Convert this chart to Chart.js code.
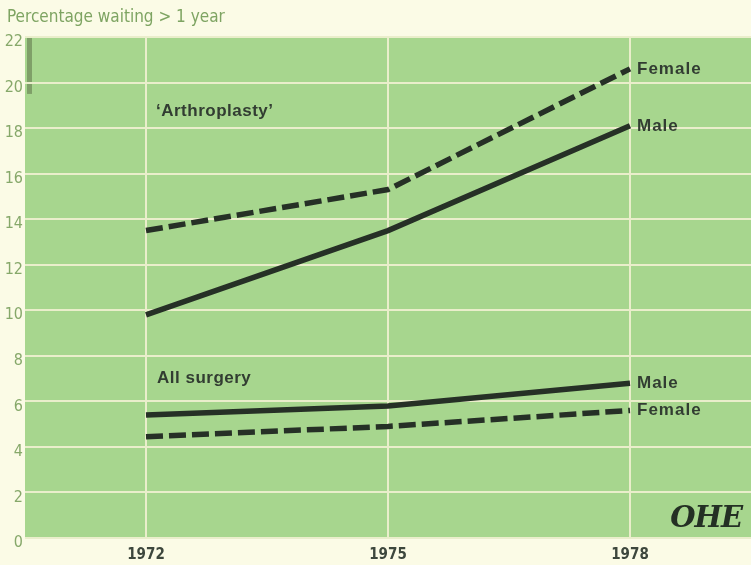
<!DOCTYPE html>
<html lang="en">
<head>
    <meta charset="UTF-8">
    <title>Percentage waiting > 1 year</title>
    <script src="https://cdn.jsdelivr.net/npm/chart.js"></script>
    <style>
        body { margin: 0; background: #fbfbe6; }
        canvas { display: block; }
    </style>
</head>
<body>

<canvas id="chart" width="751" height="565"></canvas>

<script>
    // data
    const years = ['1972', '1975', '1978'];
    const arthroFemale = [13.5, 15.3, 20.6];
    const arthroMale = [9.8, 13.5, 18.1];
    const allMale = [5.4, 5.8, 6.8];
    const allFemale = [4.45, 4.9, 5.6];
    const yTicks = [0, 2, 4, 6, 8, 10, 12, 14, 16, 18, 20, 22];

    const lineColor = '#263026';
    const textColor = '#323d32';
    const narrow = "'Liberation Sans Narrow', 'DejaVu Sans Condensed', sans-serif";

    const decor = {
        id: 'decor',
        beforeDraw(chart) {
            const { ctx, chartArea: a } = chart;
            ctx.save();
            ctx.fillStyle = '#a7d68e';
            ctx.fillRect(a.left, a.top, a.right - a.left, a.bottom - a.top);
            // darker strip at left edge near the top
            const y = chart.scales.y;
            ctx.fillStyle = '#7f9f68';
            ctx.fillRect(a.left + 2, a.top, 5, y.getPixelForValue(19.5) - a.top);
            // axis title
            ctx.fillStyle = '#7ea462';
            ctx.font = '17px ' + narrow;
            ctx.textBaseline = 'middle';
            ctx.fillText('Percentage waiting > 1 year', 7, 18);
            ctx.restore();
        },
        afterDatasetsDraw(chart) {
            const { ctx, chartArea: a } = chart;
            const x = chart.scales.x, y = chart.scales.y;
            ctx.save();
            ctx.fillStyle = textColor;
            ctx.textBaseline = 'middle';
            ctx.font = 'bold 17px "Liberation Sans", Arial, sans-serif';
            ctx.letterSpacing = '1px';
            // end labels next to the last point of each series
            const ends = [['Female', 0], ['Male', 1], ['Male', 2], ['Female', 3]];
            ends.forEach(([txt, i]) => {
                const pt = chart.getDatasetMeta(i).data[years.length - 1];
                ctx.fillText(txt, pt.x + 7, pt.y);
            });
            ctx.letterSpacing = '0.5px';
            const x0 = x.getPixelForValue(0) + 10;
            ctx.fillText('\u2018Arthroplasty\u2019', x0, y.getPixelForValue(18.75));
            ctx.fillText('All surgery', x0 + 1, y.getPixelForValue(7.0));
            // OHE mark
            ctx.letterSpacing = '-1px';
            ctx.font = 'italic bold 29px "DejaVu Serif", serif';
            ctx.textAlign = 'right';
            ctx.fillStyle = '#243024';
            ctx.fillText('OHE', a.right - 9, a.bottom - 19);
            ctx.restore();
        }
    };

    function series(data, dashed) {
        return {
            data: data,
            borderColor: lineColor,
            borderWidth: 5.5,
            borderDash: dashed ? [17, 6] : [],
            pointRadius: 0,
            tension: 0,
            fill: false
        };
    }

    new Chart(document.getElementById('chart'), {
        type: 'line',
        data: {
            labels: years,
            datasets: [
                series(arthroFemale, true),
                series(arthroMale, false),
                series(allMale, false),
                series(allFemale, true)
            ]
        },
        options: {
            responsive: false,
            animation: false,
            layout: { padding: { top: 37, left: 0, right: 0, bottom: 0 } },
            plugins: { legend: { display: false }, tooltip: { enabled: false } },
            scales: {
                x: {
                    offset: true,
                    grid: { offset: false, color: '#eaeecb', lineWidth: 2, drawTicks: false },
                    border: { display: false },
                    ticks: {
                        color: '#3d473d',
                        font: { family: narrow, size: 15, weight: 'bold' },
                        padding: 8
                    },
                    afterFit(scale) { scale.height = 27; }
                },
                y: {
                    min: 0,
                    max: 22,
                    afterBuildTicks(scale) { scale.ticks = yTicks.map(v => ({ value: v })); },
                    grid: { color: '#eaeecb', lineWidth: 2, drawTicks: false },
                    border: { display: false },
                    ticks: {
                        color: '#86a86a',
                        font: { family: narrow, size: 16 },
                        padding: 2,
                        labelOffset: 5
                    },
                    afterFit(scale) { scale.width = 25; }
                }
            }
        },
        plugins: [decor]
    });
</script>

</body>
</html>
